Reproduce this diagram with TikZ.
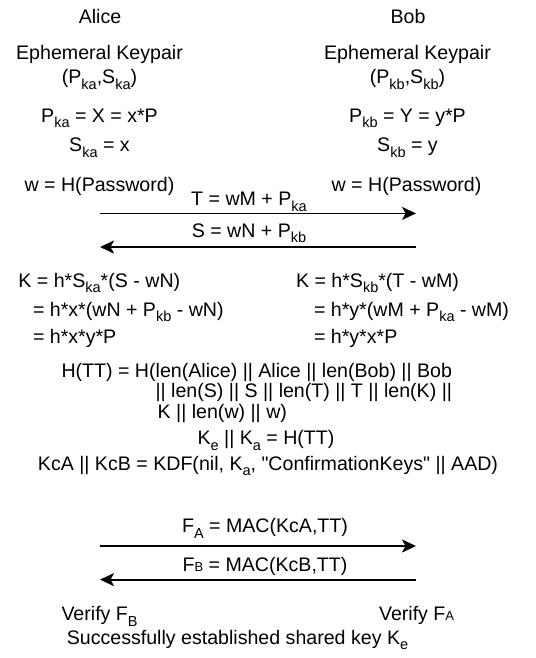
\documentclass[tikz,border=0pt]{standalone}
\usepackage{fontspec}
\setmainfont{Liberation Sans}
\newfontfamily\nolig{Liberation Sans}[Ligatures=TeXOff]
\usetikzlibrary{arrows.meta}
\newcommand{\sbs}[1]{\raisebox{-5.7pt}{\fontsize{14.5}{14.5}\selectfont #1}}
\newcommand{\smalllet}[1]{{\fontsize{13}{13}\selectfont #1}}
\newcommand{\dq}{{\nolig "}}
\begin{document}
\begin{tikzpicture}[x=1pt,y=-1pt,
  every node/.style={inner sep=0pt,outer sep=0pt,font=\fontsize{19.6}{22}\selectfont},
  ctr/.style={anchor=base},
  lft/.style={anchor=base west},
  msg/.style={line width=1.8pt,-{Stealth[length=14pt,width=13pt,inset=3.5pt]}}]
\useasboundingbox (0,0) rectangle (535,658);
% headers
\node[ctr] (alice) at (100,23.5) {Alice};
\node[ctr] (bob) at (408,23.5) {Bob};
\node[ctr] (ekpa) at (99.5,59.4) {Ephemeral Keypair};
\node[ctr] (ekpb) at (407.5,59.4) {Ephemeral Keypair};
\node[ctr] (pairA) at (99.5,84) {(P\sbs{ka},S\sbs{ka})};
\node[ctr] (pairB) at (407.5,84) {(P\sbs{kb},S\sbs{kb})};
\node[ctr] (pka) at (99.5,122) {P\sbs{ka} = X = x*P};
\node[ctr] (pkb) at (407.5,122) {P\sbs{kb} = Y = y*P};
\node[ctr] (ska) at (99.5,151.5) {S\sbs{ka} = x};
\node[ctr] (skb) at (407.5,151.5) {S\sbs{kb} = y};
\node[ctr] (wa) at (99.5,191.5) {w = H(Password)};
\node[ctr] (wb) at (406.5,191.5) {w = H(Password)};
% first exchange
\node[ctr] (tmsg) at (249,205.4) {T = wM + P\sbs{ka}};
\coordinate (a1) at (100,213.4);
\coordinate (b1) at (416,213.4);
\draw[msg] (a1) -- (b1);
\node[ctr] (smsg) at (249,237) {S = wN + P\sbs{kb}};
\coordinate (a2) at (100,247);
\coordinate (b2) at (416,247);
\draw[msg] (b2) -- (a2);
% key computation
\node[lft] (ka1) at (18.4,287) {K = h*S\sbs{ka}*(S - wN)};
\node[lft] (ka2) at (33,316) {= h*x*(wN + P\sbs{kb} - wN)};
\node[lft] (ka3) at (33,343.6) {= h*x*y*P};
\node[lft] (kb1) at (296,287) {K = h*S\sbs{kb}*(T - wM)};
\node[lft] (kb2) at (314,316) {= h*y*(wM + P\sbs{ka} - wM)};
\node[lft] (kb3) at (314,343.6) {= h*y*x*P};
\node[lft] (htt1) at (61.5,377) {H(TT) = H(len(Alice) || Alice || len(Bob) || Bob};
\node[lft] (htt2) at (155.6,397.4) {|| len(S) || S || len(T) || T || len(K) ||};
\node[lft] (htt3) at (157.7,418) {K || len(w) || w)};
\node[ctr] (keka) at (266,444.5) {K\sbs{e} || K\sbs{a} = H(TT)};
\node[ctr] (kdf) at (268,470) {KcA || KcB = KDF(nil, K\sbs{a}, \dq ConfirmationKeys\dq{} || AAD)};
% confirmation exchange
\node[ctr] (fa) at (265,532.5) {F\sbs{A} = MAC(KcA,TT)};
\coordinate (a3) at (100,546);
\coordinate (b3) at (416,546);
\draw[msg] (a3) -- (b3);
\node[ctr] (fb) at (265,571.4) {F\smalllet{B} = MAC(KcB,TT)};
\coordinate (a4) at (100,579.6);
\coordinate (b4) at (416,579.6);
\draw[msg] (b4) -- (a4);
\node[lft] (vfb) at (61.5,620.6) {Verify F\sbs{B}};
\node[lft] (vfa) at (379,620.6) {Verify F\smalllet{A}};
\node[ctr] (done) at (237.5,644) {Successfully established shared key K\sbs{e}};
\end{tikzpicture}
\end{document}
